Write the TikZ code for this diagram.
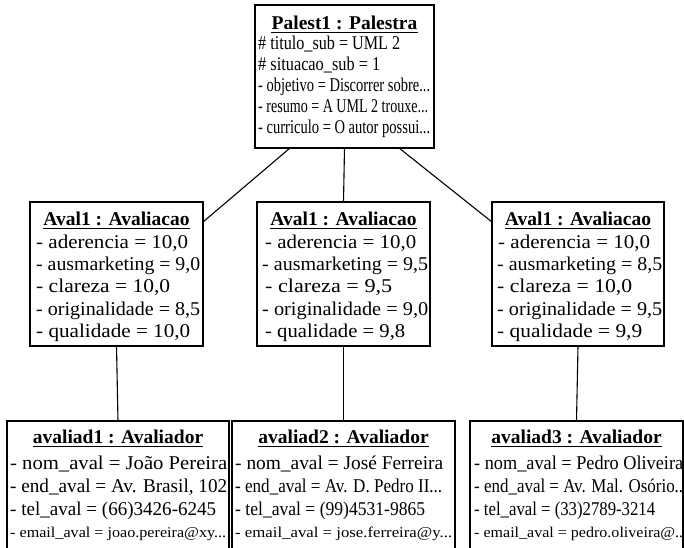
\documentclass[tikz,border=0pt]{standalone}
\usepackage{fontspec}
\setmainfont{Liberation Serif}
\usepackage{graphicx}
\tikzset{
  box/.style={draw, line width=1.1pt, inner sep=0pt, outer sep=0pt, anchor=north west},
  conn/.style={line width=1.1pt},
  ul/.style={line width=1pt},
  txt/.style={inner sep=0pt, anchor=base west, font=\fontsize{19.5}{23}\selectfont},
  toptxt/.style={inner sep=0pt, anchor=base west, font=\fontsize{19.5}{22}\selectfont},
  sml/.style={inner sep=0pt, anchor=base west, font=\fontsize{15}{18}\selectfont},
  ttl/.style={inner sep=0pt, anchor=base, font=\fontsize{19.5}{23}\selectfont\bfseries},
}
\newcommand\fw[2]{\resizebox{#1pt}{\height}{#2}}
\begin{document}
\begin{tikzpicture}[x=1pt,y=-1pt]
\useasboundingbox (0,0) rectangle (684,547);
\clip (0,0) rectangle (684,547);
% boxes
\node[box, minimum width=179pt, minimum height=143pt] (pal) at (255,5) {};
\node[box, minimum width=173pt, minimum height=144pt] (a1) at (30,202) {};
\node[box, minimum width=173pt, minimum height=144pt] (a2) at (257,202) {};
\node[box, minimum width=172pt, minimum height=144pt] (a3) at (492,202) {};
\node[box, minimum width=222pt, minimum height=150pt] (v1) at (7,421) {};
\node[box, minimum width=223pt, minimum height=150pt] (v2) at (232,421) {};
\node[box, minimum width=213pt, minimum height=150pt] (v3) at (470,421) {};
% connectors
\draw[conn] ([xshift=35pt]pal.south west) -- ([yshift=-20pt]a1.north east);
\draw[conn] (pal.south) -- (a2.north);
\draw[conn] ([xshift=-35pt]pal.south east) -- ([yshift=-20pt]a3.north west);
\draw[conn] (a1.south) -- (v1.north);
\draw[conn] (a2.south) -- (v2.north);
\draw[conn] (a3.south) -- (v3.north);
% titles
\node[ttl] (tp) at (344.5,29) {Palest1 : Palestra};
\node[ttl] (ta1) at (116.5,225) {Aval1 : Avaliacao};
\node[ttl] (ta2) at (343.5,225) {Aval1 : Avaliacao};
\node[ttl] (ta3) at (578,225) {Aval1 : Avaliacao};
\node[ttl] (tv1) at (118,443) {avaliad1 : Avaliador};
\node[ttl] (tv2) at (343.5,443) {avaliad2 : Avaliador};
\node[ttl] (tv3) at (576.5,443) {avaliad3 : Avaliador};
\foreach \t in {tp,ta1,ta2,ta3,tv1,tv2,tv3}
  \draw[ul] ([yshift=-3.5pt]\t.base west) -- ([yshift=-3.5pt]\t.base east);
% top box
\node[toptxt] (p1) at (258,49) {\fw{142}{\# titulo\_sub = UML 2}};
\node[toptxt] (p2) at (258,70) {\fw{122}{\# situacao\_sub = 1}};
\node[toptxt] (p3) at (258,91) {\fw{172}{- objetivo = Discorrer sobre...}};
\node[toptxt] (p4) at (258,112) {\fw{170}{- resumo = A UML 2 trouxe...}};
\node[toptxt] (p5) at (258,133) {\fw{172}{- curriculo = O autor possui...}};
% middle box 1
\node[txt] (a1l1) at (36,248) {\fw{152}{- aderencia = 10,0}};
\node[txt] (a1l2) at (36,270) {\fw{164}{- ausmarketing = 9,0}};
\node[txt] (a1l3) at (36,292) {\fw{134}{- clareza = 10,0}};
\node[txt] (a1l4) at (36,315) {\fw{164}{- originalidade = 8,5}};
\node[txt] (a1l5) at (36,337) {\fw{154}{- qualidade = 10,0}};
% middle box 2
\node[txt] (a2l1) at (265,248) {\fw{151}{- aderencia = 10,0}};
\node[txt] (a2l2) at (262,270) {\fw{166}{- ausmarketing = 9,5}};
\node[txt] (a2l3) at (265,292) {\fw{127}{- clareza = 9,5}};
\node[txt] (a2l4) at (262,315) {\fw{166}{- originalidade = 9,0}};
\node[txt] (a2l5) at (265,337) {\fw{140}{- qualidade = 9,8}};
% middle box 3
\node[txt] (a3l1) at (498,248) {\fw{152}{- aderencia = 10,0}};
\node[txt] (a3l2) at (497,270) {\fw{165}{- ausmarketing = 8,5}};
\node[txt] (a3l3) at (497,292) {\fw{135}{- clareza = 10,0}};
\node[txt] (a3l4) at (497,315) {\fw{165}{- originalidade = 9,5}};
\node[txt] (a3l5) at (497,337) {\fw{145}{- qualidade = 9,9}};
% bottom box 1
\node[txt] (v1l1) at (10,469) {\fw{217}{- nom\_aval = João Pereira}};
\node[txt] (v1l2) at (10,492) {\fw{217}{- end\_aval = Av. Brasil, 102}};
\node[txt] (v1l3) at (10,515) {\fw{206}{- tel\_aval = (66)3426-6245}};
\node[sml] (v1l4) at (10,537) {\fw{216}{- email\_aval = joao.pereira@xy...}};
% bottom box 2
\node[txt] (v2l1) at (235,469) {\fw{208}{- nom\_aval = José Ferreira}};
\node[txt] (v2l2) at (235,492) {\fw{207}{- end\_aval = Av. D. Pedro II...}};
\node[txt] (v2l3) at (235,515) {\fw{190}{- tel\_aval = (99)4531-9865}};
\node[sml] (v2l4) at (235,537) {\fw{217}{- email\_aval = jose.ferreira@y...}};
% bottom box 3
\node[txt] (v3l1) at (474,469) {\fw{209}{- nom\_aval = Pedro Oliveira}};
\node[txt] (v3l2) at (474,492) {\fw{209}{- end\_aval = Av. Mal. Osório..}};
\node[txt] (v3l3) at (474,515) {\fw{181}{- tel\_aval = (33)2789-3214}};
\node[sml] (v3l4) at (474,537) {\fw{209}{- email\_aval = pedro.oliveira@..}};
\end{tikzpicture}
\end{document}
